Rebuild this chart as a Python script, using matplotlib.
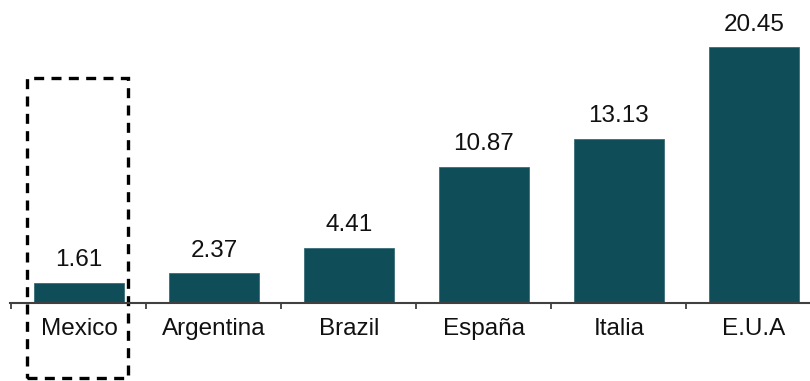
import matplotlib.pyplot as plt
from matplotlib.patches import Rectangle

countries = ['Mexico', 'Argentina', 'Brazil', 'España', 'Italia', 'E.U.A']
values = [1.61, 2.37, 4.41, 10.87, 13.13, 20.45]

plt.rcParams['font.family'] = ['Liberation Sans', 'DejaVu Sans']

fig = plt.figure(figsize=(8.1, 3.81), dpi=100)
ax = fig.add_axes([10 / 810, 78 / 381, 800 / 810, 303 / 381])

pos = list(range(len(countries)))
ax.bar(pos, values, width=0.67, color='#0f4e59', edgecolor='#3a6f78', linewidth=0.6)

for x, v in zip(pos, values):
    ax.annotate(f'{v:.2f}', (x, v), xytext=(0, 8.5), textcoords='offset points',
                ha='center', va='bottom', fontsize=17.5, color='#111111')

ax.set_xticks(pos)
ax.set_xticklabels(countries, fontsize=17.5, color='#111111')
ax.tick_params(axis='x', which='major', length=0, pad=11)
ax.set_xticks([p - 0.5 for p in pos] + [5.5], minor=True)
ax.tick_params(axis='x', which='minor', length=4, width=1.3, color='#404040', direction='out')
ax.set_yticks([])

# limits after ticks, set_xticks would widen them
ax.set_xlim(-0.511, 5.415)
ax.set_ylim(0, 24.24)

for s in ['top', 'right', 'left']:
    ax.spines[s].set_visible(False)
ax.spines['bottom'].set_color('#404040')
ax.spines['bottom'].set_linewidth(1.5)

# dashed highlight box around Mexico
box = Rectangle((-0.385, -6.0), 0.748, 24.0, fill=False, linestyle=(0, (3, 2.2)),
                linewidth=2.4, edgecolor='black', clip_on=False)
ax.add_patch(box)

fig.savefig('out.png', dpi=100)
